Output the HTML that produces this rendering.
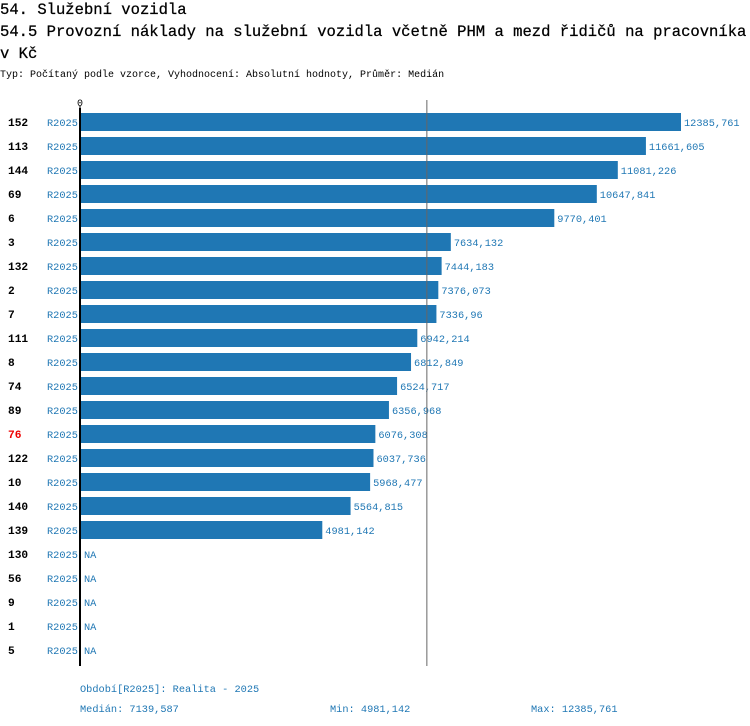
<!DOCTYPE html>
<html><head><meta charset="utf-8"><style>
body{margin:0;background:#fff;width:750px;height:726px;overflow:hidden}
svg{display:block}
text{font-family:"Liberation Mono","DejaVu Sans Mono",monospace}
</style></head><body>
<svg id="chart" width="750" height="726" xmlns="http://www.w3.org/2000/svg">
<text x="0" y="14" font-size="15.55" fill="#000" stroke="#000" stroke-width="0.25">54. Služební vozidla</text>
<text x="0" y="36" font-size="15.55" fill="#000" stroke="#000" stroke-width="0.25">54.5 Provozní náklady na služební vozidla včetně PHM a mezd řidičů na pracovníka</text>
<text x="0" y="58" font-size="15.55" fill="#000" stroke="#000" stroke-width="0.25">v Kč</text>
<text x="0" y="77" font-size="10" fill="#000">Typ: Počítaný podle vzorce, Vyhodnocení: Absolutní hodnoty, Průměr: Medián</text>
<g id="plot"></g>
<text x="80" y="692" font-size="10.3" fill="#1f77b4">Období[R2025]: Realita - 2025</text>
<text x="80" y="712" font-size="10.3" fill="#1f77b4">Medián: 7139,587</text>
<text x="330" y="712" font-size="10.3" fill="#1f77b4">Min: 4981,142</text>
<text x="531" y="712" font-size="10.3" fill="#1f77b4">Max: 12385,761</text>
</svg>
<script>
const categories=["152","113","144","69","6","3","132","2","7","111","8","74","89","76","122","10","140","139","130","56","9","1","5"];
const values=[12385.761,11661.605,11081.226,10647.841,9770.401,7634.132,7444.183,7376.073,7336.96,6942.214,6812.849,6524.717,6356.968,6076.308,6037.736,5968.477,5564.815,4981.142,null,null,null,null,null];
const valueLabels=["12385,761","11661,605","11081,226","10647,841","9770,401","7634,132","7444,183","7376,073","7336,96","6942,214","6812,849","6524,717","6356,968","6076,308","6037,736","5968,477","5564,815","4981,142","NA","NA","NA","NA","NA"];
const highlighted=["76"];
const medianValue=7139.587;
const maxValue=12385.761;
const NS="http://www.w3.org/2000/svg";
const g=document.getElementById('plot');
const x0=81, xw=600;
const xs=v=>x0+v/maxValue*xw;
const yc=i=>122+i*24;
function mk(t,a){const e=document.createElementNS(NS,t);for(const k in a)e.setAttribute(k,a[k]);g.appendChild(e);return e;}
categories.forEach((c,i)=>{
  const v=values[i];
  if(v!=null){
    const r=mk('rect',{x:x0,y:yc(i)-9,width:xs(v)-x0,height:18,fill:'#1f77b4'});
    
    
  }
  const t=mk('text',{x:8,y:yc(i)+4,'font-size':11.2,'font-weight':'bold',fill:highlighted.includes(c)?'#e00':'#000'});
  t.textContent=c;
  
  
  const p=mk('text',{x:47,y:yc(i)+4,'font-size':10.3,fill:'#1f77b4'});
  p.textContent='R2025';
  
  
  const vl=mk('text',{x:(v!=null?xs(v):x0)+3,y:yc(i)+4,'font-size':10.3,fill:'#1f77b4'});
  vl.textContent=valueLabels[i];
  
  
});
const ml=mk('line',{x1:xs(medianValue),x2:xs(medianValue),y1:100,y2:666,stroke:'#666','stroke-width':1});


const ax=mk('line',{x1:80,x2:80,y1:108,y2:666,stroke:'#000','stroke-width':2});


const tk=mk('line',{x1:80,x2:80,y1:106,y2:112,stroke:'#000','stroke-width':1});


const zt=mk('text',{x:77,y:106,'font-size':10,fill:'#000'});
zt.textContent='0';


</script>
</body></html>
